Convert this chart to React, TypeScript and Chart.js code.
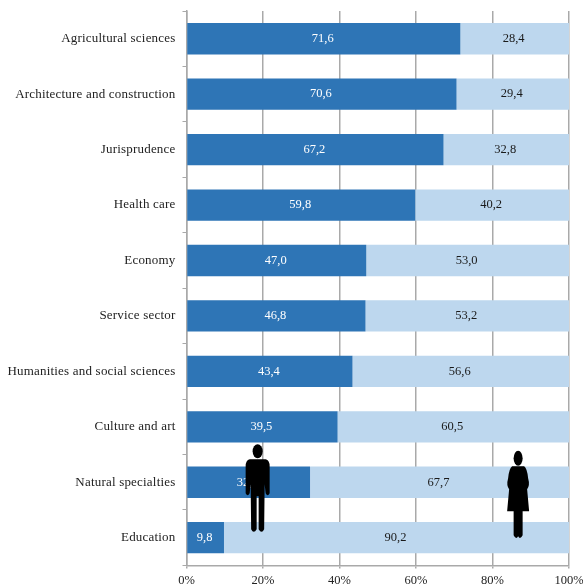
import React, { useEffect, useRef } from "react";
import { Chart, registerables } from "chart.js";

Chart.register(...registerables);

const categories = [
  "Agricultural sciences",
  "Architecture and construction",
  "Jurisprudence",
  "Health care",
  "Economy",
  "Service sector",
  "Humanities and social sciences",
  "Culture and art",
  "Natural specialties",
  "Education",
];
const men = [71.6, 70.6, 67.2, 59.8, 47.0, 46.8, 43.4, 39.5, 32.3, 9.8];
const women = [28.4, 29.4, 32.8, 40.2, 53.0, 53.2, 56.6, 60.5, 67.7, 90.2];

const FONT = '"Liberation Serif", "Times New Roman", serif';
const GRID = "#a9a9a9";

const barLabels = {
  id: "barLabels",
  afterDatasetsDraw(chart: any) {
    const { ctx } = chart;
    ctx.save();
    ctx.font = `12.5px ${FONT}`;
    ctx.textAlign = "center";
    ctx.textBaseline = "middle";
    chart.data.datasets.forEach((ds: any, i: number) => {
      ctx.fillStyle = i === 0 ? "#ffffff" : "#1a1a1a";
      chart.getDatasetMeta(i).data.forEach((bar: any, j: number) => {
        const c = bar.getCenterPoint();
        ctx.fillText(ds.data[j].toFixed(1).replace(".", ","), c.x - 1, c.y);
      });
    });
    ctx.restore();
    // The category labels are drawn after the datasets (ticks z: 1), slightly spaced out.
    ctx.letterSpacing = "0.2px";
  },
  afterDraw(chart: any) {
    chart.ctx.letterSpacing = "0px";
  },
};

function ellipse(ctx: CanvasRenderingContext2D, x: number, y: number, rx: number, ry: number) {
  ctx.beginPath();
  ctx.ellipse(x, y, rx, ry, 0, 0, Math.PI * 2);
  ctx.fill();
}

function drawMan(ctx: CanvasRenderingContext2D, cx: number, top: number) {
  ctx.fillStyle = "#000";
  ellipse(ctx, cx, top + 7, 5, 7);
  ctx.beginPath();
  ctx.moveTo(cx - 8, top + 15);
  ctx.lineTo(cx + 8, top + 15);
  ctx.quadraticCurveTo(cx + 12, top + 16, cx + 12, top + 22);
  ctx.lineTo(cx + 12, top + 49);
  ctx.quadraticCurveTo(cx + 10, top + 53, cx + 8, top + 49);
  ctx.lineTo(cx + 7, top + 40);
  ctx.lineTo(cx + 6.5, top + 85);
  ctx.quadraticCurveTo(cx + 4, top + 90, cx + 1, top + 85);
  ctx.lineTo(cx + 1, top + 52);
  ctx.lineTo(cx - 1, top + 52);
  ctx.lineTo(cx - 1, top + 85);
  ctx.quadraticCurveTo(cx - 4, top + 90, cx - 6.5, top + 85);
  ctx.lineTo(cx - 7, top + 40);
  ctx.lineTo(cx - 8, top + 49);
  ctx.quadraticCurveTo(cx - 10, top + 53, cx - 12, top + 49);
  ctx.lineTo(cx - 12, top + 22);
  ctx.quadraticCurveTo(cx - 12, top + 16, cx - 8, top + 15);
  ctx.closePath();
  ctx.fill();
}

function drawWoman(ctx: CanvasRenderingContext2D, cx: number, top: number) {
  ctx.fillStyle = "#000";
  ellipse(ctx, cx, top + 8, 4.5, 7.5);
  ctx.beginPath();
  ctx.moveTo(cx - 6, top + 16);
  ctx.lineTo(cx + 6, top + 16);
  ctx.quadraticCurveTo(cx + 9, top + 18, cx + 10, top + 28);
  ctx.quadraticCurveTo(cx + 12, top + 35, cx + 9, top + 39);
  ctx.lineTo(cx + 11, top + 61);
  ctx.lineTo(cx + 4.5, top + 61);
  ctx.lineTo(cx + 4.5, top + 85);
  ctx.quadraticCurveTo(cx + 2, top + 90, cx, top + 86);
  ctx.quadraticCurveTo(cx - 2, top + 90, cx - 4.5, top + 85);
  ctx.lineTo(cx - 4.5, top + 61);
  ctx.lineTo(cx - 11, top + 61);
  ctx.lineTo(cx - 9, top + 39);
  ctx.quadraticCurveTo(cx - 12, top + 35, cx - 10, top + 28);
  ctx.quadraticCurveTo(cx - 9, top + 18, cx - 6, top + 16);
  ctx.closePath();
  ctx.fill();
}

const figures = {
  id: "figures",
  afterDraw(chart: any) {
    const { ctx, scales } = chart;
    const x = scales.x;
    const y = scales.y;
    ctx.save();
    drawMan(ctx, x.getPixelForValue(18.6), y.getPixelForValue(8) - 38);
    drawWoman(ctx, x.getPixelForValue(86.7), y.getPixelForValue(8) - 32);
    ctx.restore();
  },
};

export default function App() {
  const ref = useRef<HTMLCanvasElement>(null);

  useEffect(() => {
    const chart = new Chart(ref.current!, {
      type: "bar",
      data: {
        labels: categories,
        datasets: [
          { label: "Men", data: men, backgroundColor: "#2e75b6", barPercentage: 0.565, categoryPercentage: 1 },
          { label: "Women", data: women, backgroundColor: "#bdd7ee", barPercentage: 0.565, categoryPercentage: 1 },
        ],
      },
      options: {
        indexAxis: "y",
        animation: false,
        responsive: false,
        devicePixelRatio: 1,
        layout: { padding: { top: 11, right: 14, left: 0, bottom: 0 } },
        plugins: { legend: { display: false }, tooltip: { enabled: false } },
        scales: {
          x: {
            stacked: true,
            min: 0,
            max: 100,
            grid: { color: GRID, lineWidth: 1.5, tickLength: 3 },
            border: { color: GRID, width: 1.5 },
            ticks: {
              stepSize: 20,
              maxRotation: 0,
              padding: 5,
              color: "#222",
              font: { family: FONT, size: 12.5 },
              callback: (v: any) => `${v}%`,
            },
            afterFit: (s: any) => {
              s.height = 21.6;
              s.paddingLeft = 0;
              s.paddingRight = 0;
            },
          },
          y: {
            stacked: true,
            grid: { drawOnChartArea: false, color: GRID, tickLength: 4, offset: true },
            border: { color: GRID, width: 1.5 },
            ticks: {
              z: 1,
              padding: 7,
              color: "#222",
              autoSkip: false,
              font: { family: FONT, size: 13 },
            },
            afterFit: (s: any) => {
              s.width = 186.5;
              s.paddingTop = 0;
              s.paddingBottom = 0;
            },
          },
        },
      },
      plugins: [barLabels, figures],
    } as any);
    return () => chart.destroy();
  }, []);

  return (
    <div style={{ position: "fixed", left: 0, top: 0, width: 583, height: 587, background: "#fff" }}>
      <canvas ref={ref} width={583} height={587} style={{ display: "block" }} />
    </div>
  );
}
